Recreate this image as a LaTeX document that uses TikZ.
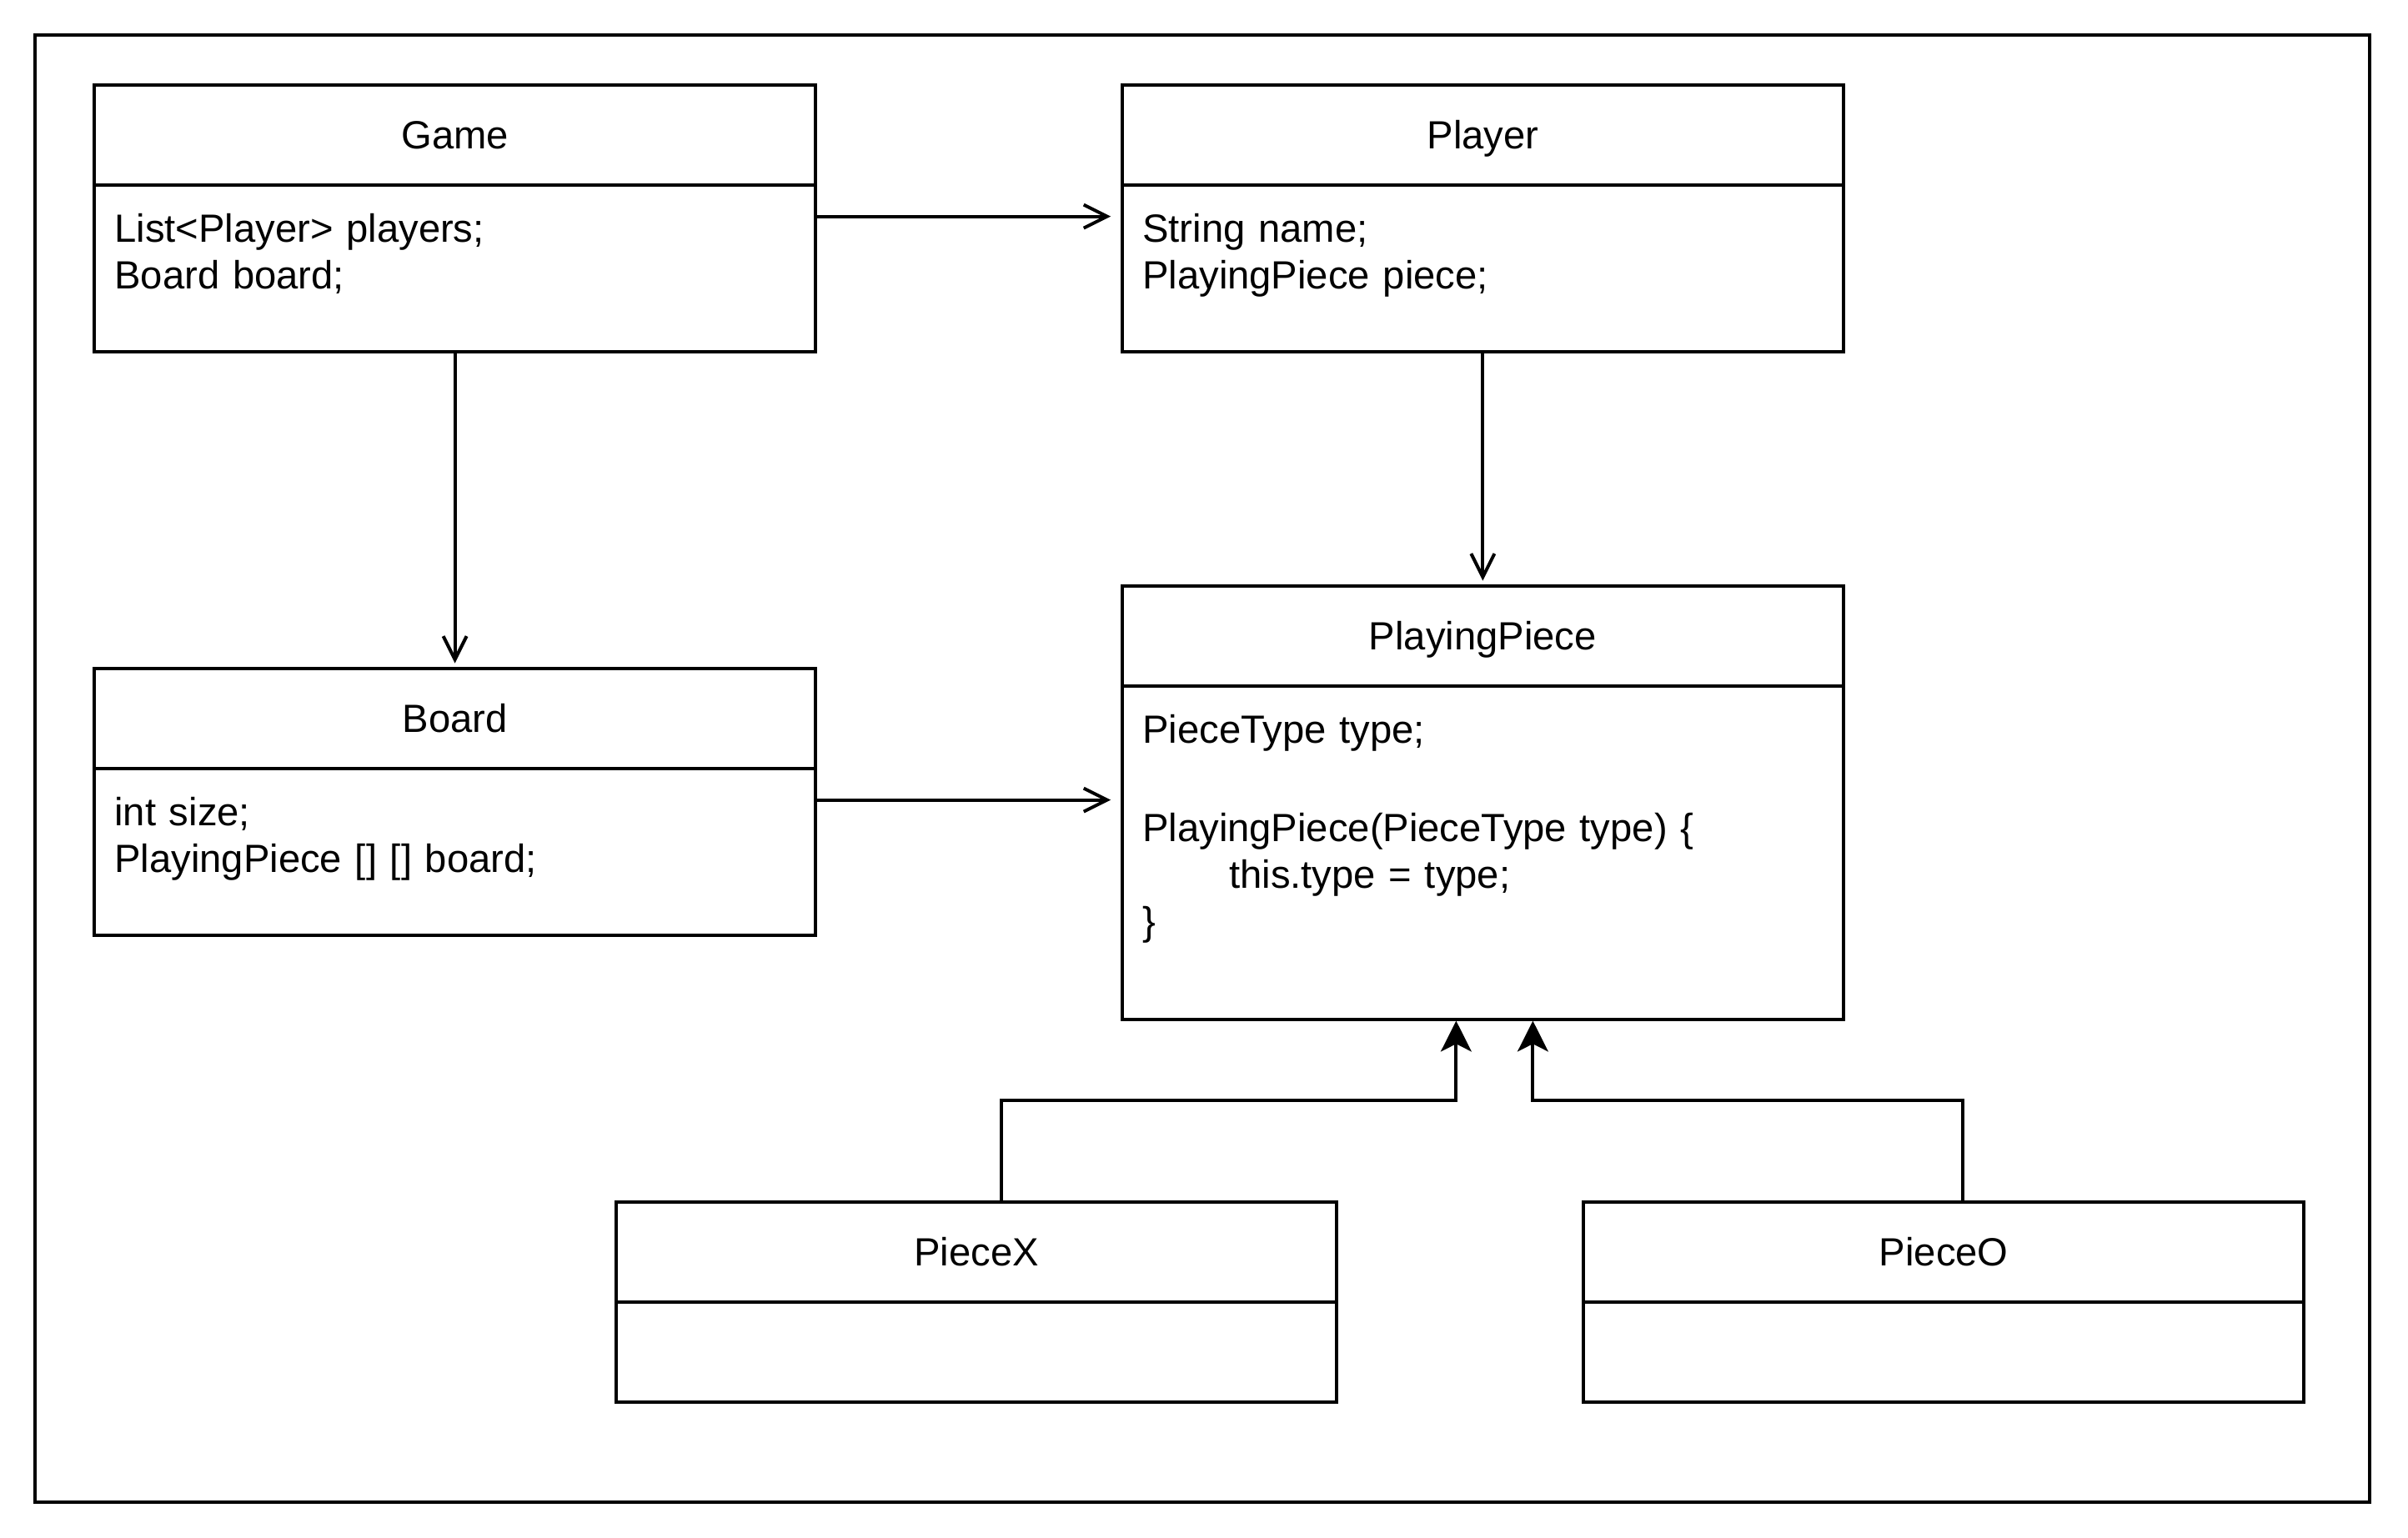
\documentclass[tikz,border=0pt]{standalone}
\usepackage{fontspec}
\setmainfont{Liberation Sans}
\usepackage{tikz}
\usetikzlibrary{shapes,arrows,arrows.meta}
\usetikzlibrary{positioning}
\tikzstyle{head} = [rectangle, draw, line width=1pt, text height=8.2pt, text depth=0pt,
    minimum width=216.1pt, minimum height=30pt, inner sep=0pt]
\tikzstyle{body} = [rectangle, draw, line width=1pt, 
    minimum width=216.1pt, inner sep=0pt]
\tikzstyle{fields} = [anchor=base west, text width=205pt, align=left, inner sep=0pt]
\tikzstyle{assoc} = [draw, line width=1pt, -{Straight Barb[length=7pt,width=7pt]}]
\tikzstyle{inherit} = [draw, line width=1pt, -{Stealth[length=9.2pt,width=9.2pt,inset=2.3pt]}]
\tikzstyle{frame} = [draw, line width=1pt]

\begin{document}
\begin{tikzpicture}[font=\fontsize{11.8pt}{14pt}\selectfont]
    \useasboundingbox (0,0) rectangle (722pt,-461pt);
    \path [frame] (10.5pt,-10.5pt) rectangle (710.4pt,-450.4pt);

    % Place nodes
    \node [head] (game) at (136.4pt,-40.4pt) {Game};
    \node [body, below of=game, node distance=40pt, minimum height=50pt] (gameb) {};
    \node [head, right of=game, node distance=308.2pt] (player) {Player};
    \node [body, below of=player, node distance=40pt, minimum height=50pt] (playerb) {};
    \node [head, below of=game, node distance=175pt] (board) {Board};
    \node [body, below of=board, node distance=40pt, minimum height=50pt] (boardb) {};
    \node [head, below of=player, node distance=150.25pt] (piece) {PlayingPiece};
    \node [body, below of=piece, node distance=65pt, minimum height=100pt] (pieceb) {};
    \node [head, below of=piece, node distance=184.75pt, xshift=-151.85pt] (piecex) {PieceX};
    \node [body, below of=piecex, node distance=30pt, minimum height=30pt] (piecexb) {};
    \node [head, right of=piecex, node distance=290.05pt] (pieceo) {PieceO};
    \node [body, below of=pieceo, node distance=30pt, minimum height=30pt] (pieceob) {};

    % Fields
    \node [fields] (gamef) at ([xshift=6.3pt,yshift=-17.75pt]gameb.north west) {List<Player> players;\\Board board;};
    \node [fields] (playerf) at ([xshift=6.3pt,yshift=-17.75pt]playerb.north west) {String name;\\PlayingPiece piece;};
    \node [fields] (boardf) at ([xshift=6.3pt,yshift=-17.75pt]boardb.north west) {int size;\\PlayingPiece [] [] board;};
    \node [fields] (piecef) at ([xshift=6.3pt,yshift=-17.75pt]pieceb.north west) {PieceType type;\\[15.5pt]PlayingPiece(PieceType type) \{\\\hspace*{26pt}this.type = type;\\\}};

    % Draw edges
    \coordinate (gameout) at ([yshift=-10pt]gameb.north east);
    \coordinate (boardout) at ([yshift=-10pt]boardb.north east);
    \path [assoc, shorten >=3pt] (gameout) -- (gameout -| playerb.west);
    \path [assoc] (gameb.south) -- ([yshift=1pt]board.north);
    \path [assoc] (playerb.south) -- ([yshift=1pt]piece.north);
    \path [assoc, shorten >=3pt] (boardout) -- (boardout -| pieceb.west);

    \path [inherit] ([xshift=7.5pt]piecex.north) --++ (0,30pt) -| ([xshift=-8pt]pieceb.south);
    \path [inherit] ([xshift=5.75pt]pieceo.north) --++ (0,30pt) -| ([xshift=15pt]pieceb.south);
\end{tikzpicture}
\end{document}
